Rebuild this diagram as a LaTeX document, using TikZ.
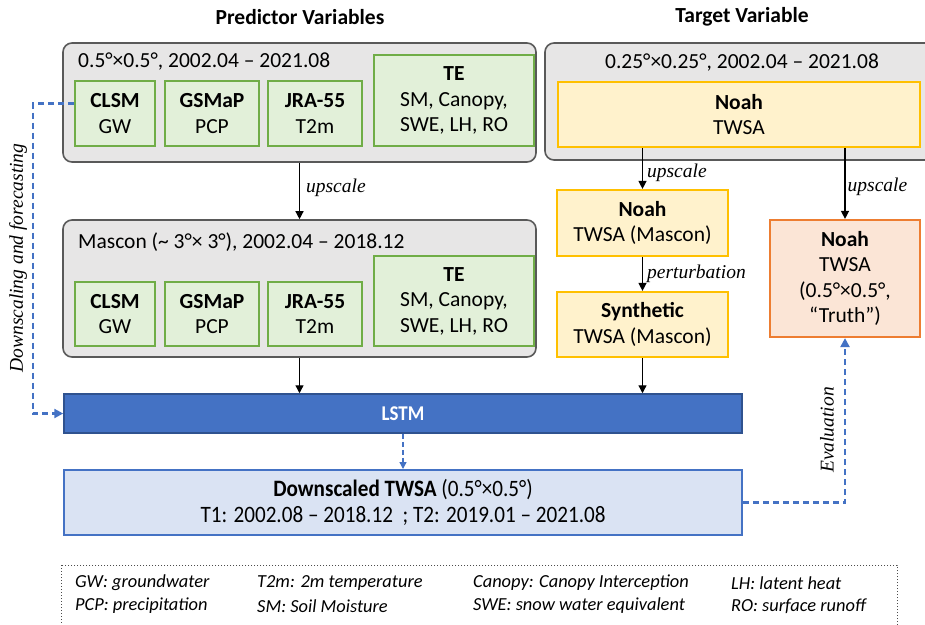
\documentclass[tikz,border=0pt]{standalone}
\usepackage{fontspec}
\setmainfont{Carlito}
\newfontfamily\lblfont{Liberation Serif}
\newfontfamily\narrowfont[FakeStretch=0.9]{Carlito}
\usepackage{tikz}
\usetikzlibrary{arrows.meta, positioning, calc}
\definecolor{boxgray}{HTML}{E7E6E6}
\definecolor{boxline}{HTML}{595959}
\definecolor{vargreen}{HTML}{70AD47}
\definecolor{varfill}{HTML}{E2F0D9}
\definecolor{noahline}{HTML}{FFC000}
\definecolor{noahfill}{HTML}{FFF2CC}
\definecolor{truthline}{HTML}{ED7D31}
\definecolor{truthfill}{HTML}{FBE5D6}
\definecolor{lstmblue}{HTML}{4472C4}
\definecolor{lstmline}{HTML}{2F528F}
\definecolor{outfill}{HTML}{DAE3F3}
\tikzset{
  bodyfont/.style={font=\fontsize{21.5}{25.5}\selectfont},
  baseblock/.style={
    rectangle, inner sep=0pt, align=center, bodyfont
  },
  groupbox/.style={
    rectangle, rounded corners=9pt, draw=boxline, fill=boxgray,
    line width=1.6pt, inner sep=0pt
  },
  varblock/.style={baseblock, draw=vargreen, fill=varfill, line width=2pt, minimum height=65pt},
  noahblock/.style={baseblock, draw=noahline, fill=noahfill, line width=2.2pt},
  truthblock/.style={baseblock, draw=truthline, fill=truthfill, line width=2.2pt},
  lstmblock/.style={
    rectangle, draw=lstmline, fill=lstmblue, line width=1.5pt,
    text=white, font=\narrowfont\fontsize{21}{24}\selectfont\bfseries
  },
  outblock/.style={
    baseblock, draw=lstmblue, fill=outfill, line width=2pt,
    font=\narrowfont\fontsize{23.5}{26}\selectfont
  },
  titletext/.style={font=\fontsize{21.5}{24}\selectfont\bfseries},
  restext/.style={bodyfont, inner sep=0pt},
  lbl/.style={font=\lblfont\itshape\fontsize{19.5}{22}\selectfont, inner sep=2pt},
  legtext/.style={font=\fontsize{18.4}{22}\selectfont\itshape, anchor=west, inner sep=0pt},
  flowline/.style={
    draw=black, -{Triangle[length=8pt, width=8pt]}, line width=1.3pt
  },
  dashflow/.style={
    draw=lstmblue, -{Triangle[length=9pt, width=9pt]}, line width=2.2pt,
    dash pattern=on 6pt off 4pt
  },
  thindash/.style={
    draw=lstmblue, -{Triangle[length=7pt, width=7pt]}, line width=1.3pt,
    dash pattern=on 5pt off 3pt
  }
}
\begin{document}
\begin{tikzpicture}[x=1pt, y=-1pt]
  \useasboundingbox (0,0) rectangle (925,624);

  % titles
  \node[titletext] (predtitle) at (300,17) {Predictor Variables};
  \node[titletext] (targtitle) at (742,17) {Target Variable};

  % predictor variables, 0.5 degree
  \node[groupbox, minimum width=473pt, minimum height=119pt] (predbox) at (299.5,102.5) {};
  \node[restext, anchor=west] (predres) at (78,62) {0.5°×0.5°, 2002.04 – 2021.08};
  \node[varblock, minimum width=80pt, anchor=south west] (clsma) at (74,147) {\textbf{CLSM}\\GW};
  \node[varblock, minimum width=94pt, right=8pt of clsma.south east, anchor=south west] (gsmapa) {\textbf{GSMaP}\\PCP};
  \node[varblock, minimum width=94pt, right=7pt of gsmapa.south east, anchor=south west] (jraa) {\textbf{JRA-55}\\T2m};
  \node[varblock, minimum width=160pt, minimum height=91pt, right=10pt of jraa.south east, anchor=south west] (tea) {\textbf{TE}\\SM, Canopy,\\SWE, LH, RO};

  % predictor variables, mascon
  \node[groupbox, minimum width=473pt, minimum height=137pt] (masbox) at (299.5,288.5) {};
  \node[restext, anchor=west] (masres) at (78,242) {Mascon (\textasciitilde{} 3°× 3°), 2002.04 – 2018.12};
  \node[varblock, minimum width=80pt, minimum height=64pt, anchor=south west] (clsmb) at (74,347) {\textbf{CLSM}\\GW};
  \node[varblock, minimum width=94pt, minimum height=64pt, right=8pt of clsmb.south east, anchor=south west] (gsmapb) {\textbf{GSMaP}\\PCP};
  \node[varblock, minimum width=94pt, minimum height=64pt, right=7pt of gsmapb.south east, anchor=south west] (jrab) {\textbf{JRA-55}\\T2m};
  \node[varblock, minimum width=160pt, minimum height=90pt, right=10pt of jrab.south east, anchor=south west] (teb) {\textbf{TE}\\SM, Canopy,\\SWE, LH, RO};

  % target variable
  \node[groupbox, minimum width=390pt, minimum height=117pt] (targbox) at (740,101.5) {};
  \node[restext] (targres) at (742,63) {0.25°×0.25°, 2002.04 – 2021.08};
  \node[noahblock, minimum width=362pt, minimum height=65pt] (noahtop) at (739,114.5) {\textbf{Noah}\\TWSA};
  \node[noahblock, minimum width=171pt, minimum height=66pt] (noahmas) at (642.5,223) {\textbf{Noah}\\TWSA (Mascon)};
  \node[noahblock, minimum width=171pt, minimum height=65pt] (synth) at (642.5,324.5) {\textbf{Synthetic}\\TWSA (Mascon)};
  \node[truthblock, minimum width=150pt, minimum height=117pt] (truth) at (845,278.5) {\textbf{Noah}\\TWSA\\(0.5°×0.5°,\\“Truth”)};

  % model and output
  \node[lstmblock, minimum width=678pt, minimum height=39pt] (lstm) at (403,413.5) {LSTM};
  \node[outblock, minimum width=678pt, minimum height=65pt] (dsout) at (403,502.5) {\textbf{Downscaled TWSA} (0.5°×0.5°)\\T1: 2002.08 – 2018.12 \ ; T2: 2019.01 – 2021.08};

  % legend
  \draw[gray!60!black, line width=1pt, dotted] (61,565) rectangle (897,645);
  \node[legtext] (leggw) at (75,583) {GW: groundwater};
  \node[legtext] (legpcp) at (75,606) {PCP: precipitation};
  \node[legtext] (legt2m) at (257,583) {T2m: 2m temperature};
  \node[legtext] (legsm) at (257,606) {SM: Soil Moisture};
  \node[legtext] (legcan) at (473,583) {Canopy: Canopy Interception};
  \node[legtext] (legswe) at (473,606) {SWE: snow water equivalent};
  \node[legtext] (leglh) at (731,583) {LH: latent heat};
  \node[legtext] (legro) at (731,606) {RO: surface runoff};

  % connectors
  \draw[flowline] (predbox.south) -- node[lbl, right, pos=0.45, xshift=4pt] {upscale} (masbox.north);
  \draw[flowline] (masbox.south) -- (masbox.south |- lstm.north);
  \draw[flowline] (noahmas.north |- noahtop.south) -- node[lbl, right, pos=0.6, xshift=2pt] {upscale} (noahmas.north);
  \draw[flowline] (noahmas.south) -- node[lbl, right, xshift=2pt] {perturbation} (synth.north);
  \draw[flowline] (synth.south) -- (synth.south |- lstm.north);
  \draw[flowline] (truth.north |- noahtop.south) -- node[lbl, right, pos=0.55] {upscale} (truth.north);
  \draw[thindash] (lstm.south) -- (dsout.north);
  \draw[dashflow] ([yshift=10pt]clsma.west) -- ++(-41,0) |- (lstm.west);
  \draw[dashflow] (dsout.east) -| (truth.south);

  \node[lbl, rotate=90] (dslabel) at (18,258) {Downscaling and forecasting};
  \node[lbl, rotate=90] (evallabel) at (827,430) {Evaluation};
\end{tikzpicture}
\end{document}
